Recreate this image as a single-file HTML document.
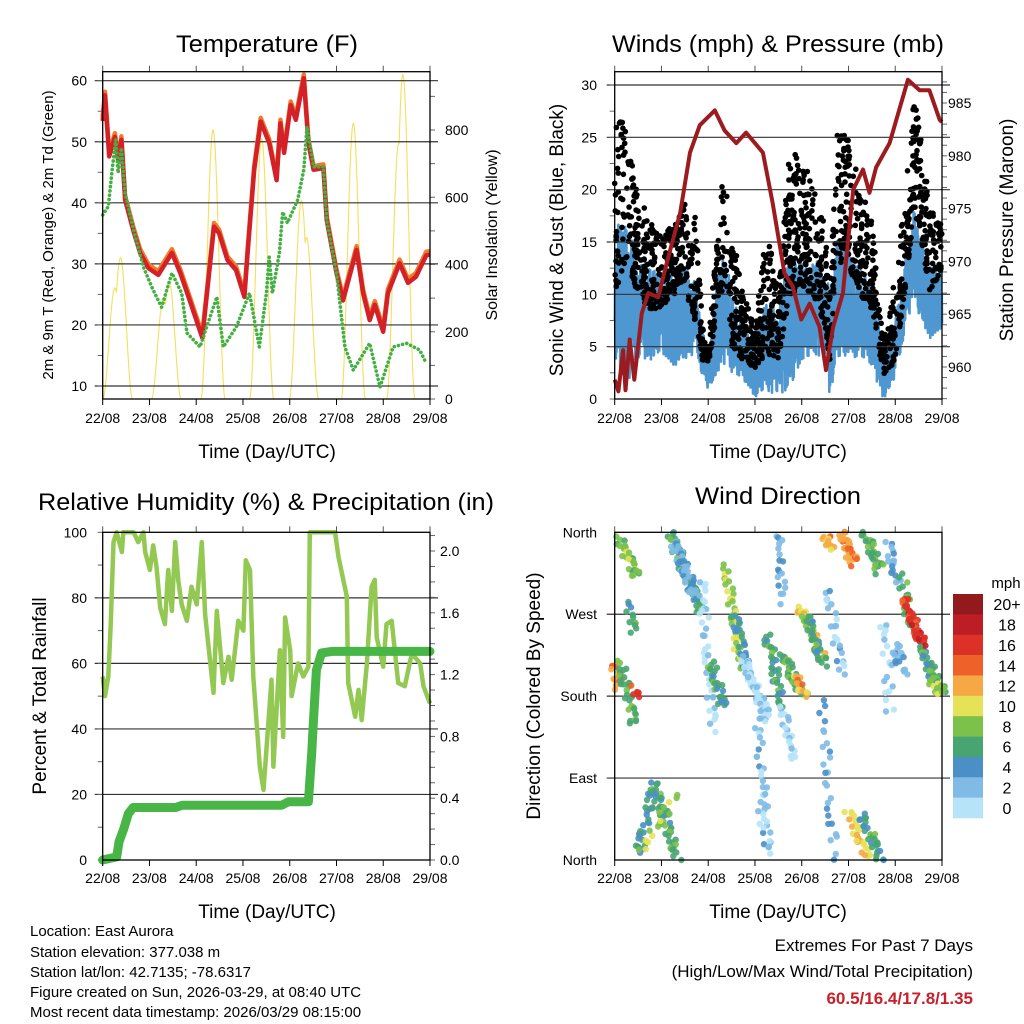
<!DOCTYPE html>
<html><head><meta charset="utf-8"><title>Weather station 7-day charts</title>
<style>
html,body{margin:0;padding:0;background:#fff;}
svg{display:block;font-family:"Liberation Sans",Arial,sans-serif;}
</style></head>
<body>
<svg id="chart" width="1024" height="1024" viewBox="0 0 1024 1024" xmlns="http://www.w3.org/2000/svg">
<rect x="0" y="0" width="1024" height="1024" fill="#fff"/>
<text x="267" y="52" font-size="24" text-anchor="middle" textLength="182" lengthAdjust="spacingAndGlyphs">Temperature (F)</text>
<text x="778" y="52" font-size="24" text-anchor="middle" textLength="332" lengthAdjust="spacingAndGlyphs">Winds (mph) &amp; Pressure (mb)</text>
<text x="266" y="510" font-size="24" text-anchor="middle" textLength="456" lengthAdjust="spacingAndGlyphs">Relative Humidity (%) &amp; Precipitation (in)</text>
<text x="778" y="504" font-size="24" text-anchor="middle" textLength="166" lengthAdjust="spacingAndGlyphs">Wind Direction</text>

<text x="267" y="458" font-size="19" text-anchor="middle">Time (Day/UTC)</text>
<text x="778" y="458" font-size="19" text-anchor="middle">Time (Day/UTC)</text>
<text x="267" y="918" font-size="19" text-anchor="middle">Time (Day/UTC)</text>
<text x="778" y="918" font-size="19" text-anchor="middle">Time (Day/UTC)</text>

<text transform="translate(53,235) rotate(-90)" font-size="15" text-anchor="middle">2m &amp; 9m T (Red, Orange) &amp; 2m Td (Green)</text>
<text transform="translate(497,235) rotate(-90)" font-size="16" text-anchor="middle">Solar Insolation (Yellow)</text>
<text transform="translate(563,240) rotate(-90)" font-size="19" text-anchor="middle">Sonic Wind &amp; Gust (Blue, Black)</text>
<text transform="translate(1013,230) rotate(-90)" font-size="19" text-anchor="middle">Station Pressure (Maroon)</text>
<text transform="translate(46,696) rotate(-90)" font-size="19" text-anchor="middle">Percent &amp; Total Rainfall</text>
<text transform="translate(540,696) rotate(-90)" font-size="19" text-anchor="middle">Direction (Colored By Speed)</text>

<g font-size="15">
<text x="30" y="936">Location: East Aurora</text>
<text x="30" y="957">Station elevation: 377.038 m</text>
<text x="30" y="977">Station lat/lon: 42.7135; -78.6317</text>
<text x="30" y="997">Figure created on Sun, 2026-03-29, at 08:40 UTC</text>
<text x="30" y="1017">Most recent data timestamp: 2026/03/29 08:15:00</text>
</g>
<g font-size="17" text-anchor="end">
<text x="973" y="951">Extremes For Past 7 Days</text>
<text x="973" y="977">(High/Low/Max Wind/Total Precipitation)</text>
<text x="973" y="1004" fill="#c8202a" font-weight="bold">60.5/16.4/17.8/1.35</text>
</g>
<g id="layer"></g>
</svg>
<script>
// ---------- DATA ----------
const dayLabels = ["22/08","23/08","24/08","25/08","26/08","27/08","28/08","29/08"];
const tempTicks = [10,20,30,40,50,60];
const solarTicks = [0,200,400,600,800];
const windTicks = [0,5,10,15,20,25,30];
const presTicks = [960,965,970,975,980,985];
const rhTicks = [0,20,40,60,80,100];
const rainTicks = ["0.0","0.4","0.8","1.2","1.6","2.0"];
const dirTicks = ["North","East","South","West","North"];

const tempT = [0,0.05,0.14,0.26,0.33,0.4,0.48,0.66,0.8,0.98,1.19,1.48,1.66,1.88,2.13,2.38,2.49,2.67,2.85,3.03,3.1,3.24,3.38,3.56,3.72,3.8,3.88,4.02,4.13,4.3,4.37,4.4,4.51,4.72,4.79,5.0,5.14,5.43,5.57,5.71,5.82,6.0,6.1,6.35,6.53,6.7,6.92,7.0];
const tempV = [53.4,57.6,47.6,50.8,47,50.3,40.5,35.3,31.8,29.3,28.2,31.8,28.5,23.6,17.9,36.1,35,30.6,29,24.6,31.8,45.4,53.3,49.8,43.7,53,48.2,56,53.6,60.4,53,49.8,45.4,45.7,37.2,28.5,24,32.3,25.2,20.8,23.3,18.9,25.2,30.1,26.9,27.9,31.4,31.5];
const dewT = [0,0.12,0.21,0.28,0.33,0.4,0.48,0.66,0.87,1.05,1.26,1.48,1.69,1.8,2.08,2.44,2.58,2.86,3.14,3.35,3.5,3.56,3.63,3.78,3.85,3.95,4.17,4.3,4.37,4.44,4.51,4.72,4.79,5.0,5.18,5.36,5.71,5.93,6.21,6.5,6.78,6.92];
const dewV = [38,39.4,45.9,50.3,44.9,49,41.6,35.5,29.5,26.2,22.9,28.5,25.2,18.7,16.4,24.6,16.4,19.7,25.2,16.4,25.2,31.1,25.2,31.8,38.5,36.7,40.5,45.4,52.5,49.2,45.9,45.9,37.2,28.5,16.4,12.6,17,9.8,16.4,17,15.9,13.7];
const solarPeakT = [0.26,0.38,1.3,1.42,2.36,3.4,4.25,4.36,5.36,6.33,6.42];
const solarPeakV = [330,420,300,350,800,775,590,480,820,760,965];

const presT = [0,0.08,0.18,0.23,0.32,0.42,0.58,0.72,0.93,1.11,1.4,1.61,1.82,2.14,2.35,2.6,2.81,3.17,3.38,3.63,3.81,3.99,4.17,4.38,4.52,4.67,4.88,5.1,5.31,5.45,5.59,5.88,6.27,6.52,6.73,6.95,7.0];
const presV = [958.8,957.7,961.6,957.8,962.6,958.8,965.1,967,966.6,969.8,974.6,980.3,982.9,984.3,982.4,981.2,982.2,980.3,975.5,968.9,967.6,964.5,966,963.8,959.7,963.8,967,976.8,978.7,976.5,978.9,981.2,987.2,986.2,986.2,983.4,983.2];
const windT = [0,0.25,0.5,0.75,1,1.25,1.5,1.75,1.9,2,2.25,2.4,2.5,2.75,3,3.25,3.5,3.75,4,4.25,4.5,4.6,4.75,5,5.25,5.5,5.75,6,6.25,6.4,6.5,6.75,7];
const windHi = [16.2,17.7,13.9,12.6,12,12,12.6,11.4,6.3,3.7,13.3,13.6,10.1,6.9,6.3,9.5,8.8,15.2,14.6,13.3,13.3,10,15.2,15.5,12.6,10.7,5.3,7.6,14.6,18.1,15.8,12.6,12.6];
const windLo = [3.7,1.2,3.7,3.7,4.4,3.1,3.7,4.4,1.2,0.9,2.5,3.7,2.1,1.8,0.2,0.5,0.2,1.2,3.7,4.4,3.7,0,3.1,4.4,3.7,2.8,0,1.8,6.9,10.1,8.2,5.6,6.9];
const gustHi = [26.7,26.7,20.3,17.1,16.2,16.5,18.7,17.4,6,4.7,20.3,20.3,16.5,10,6.9,16.5,10,24.4,23.5,20.3,17.1,10,26,24.8,20.3,17.1,5.3,11.7,21.3,28.6,26.7,18.1,17.1];
const gustLo = [10.1,13.3,10,8.5,8.8,10,10,6.9,3,3,10,10.7,5,3.7,3,4.4,3.7,10,10.7,10,6.9,3.7,13.3,12.6,10,8.5,2.1,3.7,11.7,18.1,16.5,10,12.6];

const rhT = [0,0.05,0.12,0.17,0.23,0.3,0.41,0.44,0.66,0.76,0.87,0.91,1.01,1.08,1.15,1.23,1.33,1.4,1.48,1.55,1.62,1.69,1.8,1.9,2.01,2.12,2.19,2.37,2.44,2.58,2.69,2.76,2.9,3.01,3.06,3.15,3.22,3.36,3.44,3.61,3.65,3.79,3.86,3.9,4.01,4.04,4.18,4.29,4.4,4.43,4.97,5.04,5.22,5.25,5.4,5.47,5.54,5.65,5.75,5.82,5.86,6.0,6.07,6.18,6.32,6.46,6.61,6.79,6.86,7.0];
const rhV = [56,50,56,71,97,100,94,100,100,97,100,94,88.5,96,89.5,77,72,88.5,76,97,85,78,73,83.4,78,97,75,51,76,54,62,55,73,70,91.5,88.5,56,28.5,21.4,55,28.5,64,37.6,74,64,50,60,56,59,100,100,92.6,80.4,54,43.7,51.9,42.7,60,83.4,85.5,68,59,72,73,54,53,63,60,53,47.8];
const rainT = [0,0.3,0.35,0.45,0.55,0.65,1.56,1.7,3.83,3.97,4.4,4.47,4.5,4.57,4.68,4.9,7.0];
const rainV = [0,0.02,0.12,0.2,0.3,0.34,0.34,0.355,0.355,0.377,0.377,0.69,0.86,1.23,1.34,1.35,1.35];

// wind direction tracks: start/end time (days), start/end direction (deg), speed (mph)
const trkT0 = [0,0.13,0.1,0.3,0.38,1.2,1.25,1.84,2.05,2.37,2.55,2.76,3.05,3.26,3.48,3.55,3.58,3.83,3.97,4.1,4.44,4.5,4.55,4.83,4.97,5.25,5.33,5.83,5.75,5.97,6.15,6.18,6.54,6.75,0.5,0.84,0.55,3.1];
const trkT1 = [0.1,0.41,0.48,0.38,0.45,1.84,1.7,2.12,2.34,2.7,2.83,3.26,3.26,3.55,3.58,3.83,3.97,4.12,4.47,4.45,4.69,4.7,4.85,5.11,5.4,5.7,5.68,6.04,5.9,6.18,6.32,6.61,7.0,7.0,0.84,1.34,1.3,3.26];
const trkD0 = [216,220,351,285,190,358,350,311,216,326,271,220,168,249,359,172,227,201,278,270,176,358,300,359,55,50,359,350,264,238,315,286,234,200,4,84,10,80];
const trkD1 = [190,146,311,249,180,275,290,143,168,212,212,154,7,168,282,106,183,179,220,215,0,340,200,326,0,0,318,300,161,205,249,234,183,183,84,0,70,5];
const trkSpd = [14,8,9,7,17,7,4,2,7,10,6,2,3,7,4,2,8,13,11,7,4,13,3,14,12,7,8,4,2,4,8,17,7,10,6,7,10,2];
const trkN = [14,30,30,12,6,60,40,40,28,40,24,50,30,36,18,22,30,14,40,30,26,14,24,34,26,30,32,18,18,16,18,40,40,14,30,40,16,10];

const cbLabels = ["20+","18","16","14","12","10","8","6","4","2","0"];
const cbColors = ["#93191c","#bd1d24","#db3127","#ee6229","#f6a844","#e6e258","#7cc24a","#48a571","#4a8fc6","#80bbe5","#b7e3f8"];

// ---------- HELPERS ----------
const NS = "http://www.w3.org/2000/svg";
const layer = document.getElementById("layer");
function mk(tag, attrs, parent){ const e=document.createElementNS(NS,tag); for(const k in attrs) e.setAttribute(k,attrs[k]); (parent||layer).appendChild(e); return e; }
function interp(ts, vs, t){ if(t<=ts[0]) return vs[0]; for(let i=1;i<ts.length;i++){ if(t<=ts[i]){ const f=(t-ts[i-1])/(ts[i]-ts[i-1]); return vs[i-1]+f*(vs[i]-vs[i-1]); } } return vs[vs.length-1]; }
function weyl(i,c){ const v=(i*i*0.6180339887+i*0.4142135+c); return v-Math.floor(v); }
function panel(x0,x1,y0,y1){ return {x0,x1,y0,y1,x:t=>x0+t*(x1-x0)/7}; }
function lin(d0,d1,p0,p1){ return v=>p0+(v-d0)*(p1-p0)/(d1-d0); }
function pathFrom(ts,vs,xf,yf){ let d=""; for(let i=0;i<ts.length;i++){ d+=(i?"L":"M")+xf(ts[i]).toFixed(1)+","+yf(vs[i]).toFixed(1); } return d; }

const P1 = panel(102.7,430,71.7,399);
const P2 = panel(614.7,942,71.7,399);
const P3 = panel(102.7,430,532.3,860);
const P4 = panel(614.7,942,532.3,860);

const yTemp = lin(10,60,386,80.7);
const ySolar = lin(0,800,399,130);
const yWind = lin(0,30,399,85);
const yPres = lin(960,985,367,103);
const yRH = lin(0,100,860,532.3);
const yRain = lin(0,2,860,551);
const yDir = lin(0,360,860,532.3);

function frameAndTime(P, name, labelY){
  const g = mk("g",{});
  
  
  for(let d=0; d<8; d++){
    const x=P.x(d);
    const tb = mk("line",{x1:x,x2:x,y1:P.y1,y2:P.y1+6,stroke:"#000","stroke-width":1},g);
    
    
    const tt = mk("line",{x1:x,x2:x,y1:P.y0,y2:P.y0-6,stroke:"#555","stroke-width":1},g);
    
    
    const lb = mk("text",{x:x,y:labelY,"font-size":14,"text-anchor":"middle"},g);
    lb.textContent = dayLabels[d];
    
    
  }
  const fr = mk("rect",{x:P.x0,y:P.y0,width:P.x1-P.x0,height:P.y1-P.y0,fill:"none",stroke:"#000","stroke-width":1.3},g);
  
  
}
function hgrid(P, ys, name){
  ys.forEach(y=>{
    const l = mk("line",{x1:P.x0-8,x2:P.x1+8,y1:y,y2:y,stroke:"#333","stroke-width":1.2});
    
    
  });
}
function yLabels(vals, yf, x, anchor, name){
  vals.forEach(v=>{
    const t = mk("text",{x:x,y:yf(parseFloat(v))+5,"font-size":14,"text-anchor":anchor});
    t.textContent = v;
    
    
  });
}
function minorTicks(P, from, to, step, yf, side, name){
  for(let v=from; v<=to+1e-9; v+=step){
    const y=yf(v); if(y<P.y0-0.5||y>P.y1+0.5) continue;
    const x = side==="left"?P.x0:P.x1;
    const l = mk("line",{x1:x,x2:side==="left"?x-5:x+5,y1:y,y2:y,stroke:"#666","stroke-width":1});
    
    
  }
}

// ---------- PANEL 1: TEMPERATURE ----------
(function(){
  let d="";
  for(let i=0;i<=1400;i++){
    const t=i*7/1400; let v=0;
    for(let k=0;k<solarPeakT.length;k++){ const dt=(t-solarPeakT[k])/0.26; if(Math.abs(dt)<1){ v=Math.max(v, solarPeakV[k]*Math.pow(Math.cos(dt*Math.PI/2),2)); } }
    d+=(i?"L":"M")+P1.x(t).toFixed(1)+","+ySolar(v).toFixed(1);
  }
  const s = mk("path",{d:d,fill:"none",stroke:"#f8dd5c","stroke-width":1.1});
  
  
  hgrid(P1, tempTicks.map(yTemp), "temp");
  minorTicks(P1, 5, 60, 5, yTemp, "left", "temp");
  minorTicks(P1, 0, 900, 100, ySolar, "right", "solar");
  const o = mk("path",{d:pathFrom(tempT,tempV.map(v=>v+0.6),P1.x,yTemp),fill:"none",stroke:"#f07a2a","stroke-width":4.5,"stroke-linejoin":"round"});
  
  
  const r = mk("path",{d:pathFrom(tempT,tempV,P1.x,yTemp),fill:"none",stroke:"#d42027","stroke-width":4.5,"stroke-linejoin":"round"});
  
  
  const g = mk("path",{d:pathFrom(dewT,dewV,P1.x,yTemp),fill:"none",stroke:"#44b044","stroke-width":3.6,"stroke-dasharray":"0.1 4.2","stroke-linecap":"round"});
  
  
  frameAndTime(P1,"temp",423);
  yLabels(tempTicks.map(String), yTemp, 87, "end", "temp");
  yLabels(solarTicks.map(String), ySolar, 445, "start", "solar");
})();

// ---------- PANEL 2: WINDS ----------
(function(){
  let d="";
  const N=1600;
  for(let i=0;i<=N;i++){
    const t=i*7/N; const lo=interp(windT,windLo,t), hi=interp(windT,windHi,t);
    const f = weyl(i,0.3);
    d+=(i?"L":"M")+P2.x(t).toFixed(1)+","+yWind(lo+(hi-lo)*f).toFixed(1);
  }
  const b = mk("path",{d:d,fill:"none",stroke:"#4f97d1","stroke-width":2.6,"stroke-linejoin":"round"});
  
  
  const gg = mk("g",{fill:"#000"});
  
  
  const M=1500;
  for(let i=0;i<M;i++){
    const t=weyl(i,0.77)*7; const lo=interp(windT,gustLo,t), hi=interp(windT,gustHi,t);
    const f=Math.pow(weyl(i+3,0.11),1.3);
    const c = mk("circle",{cx:P2.x(t).toFixed(1),cy:yWind(lo+(hi-lo)*f).toFixed(1),r:2.8},gg);
    
    
  }
  hgrid(P2, windTicks.slice(1).map(yWind), "wind");
  minorTicks(P2, 0, 30, 2.5, yWind, "left", "wind");
  minorTicks(P2, 957, 987, 1, yPres, "right", "pres");
  const p = mk("path",{d:pathFrom(presT,presV,P2.x,yPres),fill:"none",stroke:"#9c1b1f","stroke-width":4,"stroke-linejoin":"round"});
  
  
  frameAndTime(P2,"wind",423);
  yLabels(windTicks.map(String), yWind, 597, "end", "wind");
  yLabels(presTicks.map(String), yPres, 948, "start", "pres");
})();

// ---------- PANEL 3: RH & RAIN ----------
(function(){
  hgrid(P3, rhTicks.slice(1,5).map(yRH), "rh");
  minorTicks(P3, 0, 100, 10, yRH, "left", "rh");
  minorTicks(P3, 0, 2.1, 0.1, yRain, "right", "rain");
  const h = mk("path",{d:pathFrom(rhT,rhV,P3.x,yRH),fill:"none",stroke:"#93c953","stroke-width":4.5,"stroke-linejoin":"round"});
  
  
  const r = mk("path",{d:pathFrom(rainT,rainV,P3.x,yRain),fill:"none",stroke:"#48b547","stroke-width":9,"stroke-linejoin":"round","stroke-linecap":"round"});
  
  
  frameAndTime(P3,"rh",883);
  yLabels(rhTicks.map(String), yRH, 87, "end", "rh");
  yLabels(rainTicks, yRain, 440, "start", "rain");
})();

// ---------- PANEL 4: WIND DIRECTION ----------
(function(){
  hgrid(P4, [90,180,270].map(yDir), "dir");
  const gt = mk("g",{});
  
  
  function col(s){ const b=Math.min(10,Math.max(0,Math.floor(s/2))); return cbColors[10-b]; }
  for(let k=0;k<trkT0.length;k++){
    const n=trkN[k];
    for(let j=0;j<n;j++){
      const p=(j+0.5)/n;
      const t=trkT0[k]+(trkT1[k]-trkT0[k])*p;
      const dv=trkD0[k]+(trkD1[k]-trkD0[k])*p;
      const jx=(weyl(j+k*7,0.2)-0.5)*9, jy=(weyl(j*3+k,0.7)-0.5)*9;
      const sp=trkSpd[k]+(weyl(j+k,0.5)-0.5)*3;
      const c = mk("circle",{cx:(P4.x(t)+jx).toFixed(1),cy:Math.min(860,Math.max(532,yDir(dv)+jy)).toFixed(1),r:3.2,fill:col(sp),"fill-opacity":0.9},gt);
      
      
    }
  }
  frameAndTime(P4,"dir",883);
  [0,90,180,270,360].forEach((v,i)=>{
    const t = mk("text",{x:597,y:yDir(v)+5,"font-size":14,"text-anchor":"end"});
    t.textContent = dirTicks[i];
    
    
  });
  const cb = mk("g",{});
  
  
  const mph = mk("text",{x:1006,y:588,"font-size":15,"text-anchor":"middle"},cb);
  mph.textContent = "mph";
  
  
  const bh=(818-594)/cbColors.length;
  for(let i=0;i<cbColors.length;i++){
    const r = mk("rect",{x:953,y:594+i*bh,width:30,height:bh+0.3,fill:cbColors[i]},cb);
    
    
    const t = mk("text",{x:1007,y:594+i*bh+bh/2+6,"font-size":16,"text-anchor":"middle"},cb);
    t.textContent = cbLabels[i];
    
    
  }
})();
</script>
</body></html>
